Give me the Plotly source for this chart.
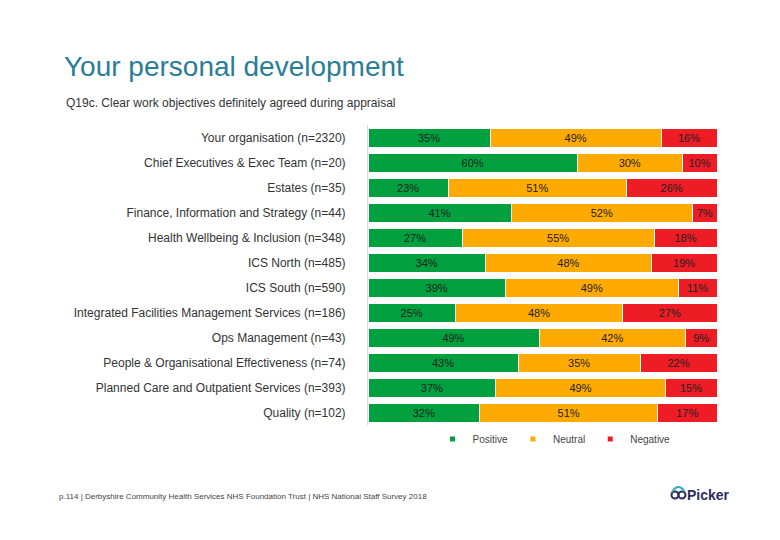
import plotly.graph_objects as go

categories = [
    "Your organisation (n=2320)",
    "Chief Executives & Exec Team (n=20)",
    "Estates (n=35)",
    "Finance, Information and Strategy (n=44)",
    "Health Wellbeing & Inclusion (n=348)",
    "ICS North (n=485)",
    "ICS South (n=590)",
    "Integrated Facilities Management Services (n=186)",
    "Ops Management (n=43)",
    "People & Organisational Effectiveness (n=74)",
    "Planned Care and Outpatient Services (n=393)",
    "Quality (n=102)",
]
positive = [35, 60, 23, 41, 27, 34, 39, 25, 49, 43, 37, 32]
neutral = [49, 30, 51, 52, 55, 48, 49, 48, 42, 35, 49, 51]
negative = [16, 10, 26, 7, 18, 19, 11, 27, 9, 22, 15, 17]

series = [
    ("Positive", positive, "#00A03E"),
    ("Neutral", neutral, "#FFAA00"),
    ("Negative", negative, "#EE1C25"),
]

# rounded percentages: scale each row to its total so bars fill the width
totals = [p + n + g for p, n, g in zip(positive, neutral, negative)]

# page body has an 8px margin; work in figure pixel coords
OFF = 8
L, R, T, B = 368 - OFF, 717 - OFF, 125 - OFF, 425 - OFF
PW, PH = R - L, B - T

def px(x):
    return (x - OFF - L) / PW

def py(y):
    return (B - (y - OFF)) / PH

fig = go.Figure()
for name, vals, col in series:
    fig.add_trace(go.Bar(
        y=categories, x=[v * 100 / t for v, t in zip(vals, totals)],
        name=name, orientation="h", showlegend=False,
        marker=dict(color=col, line=dict(color="white", width=1)),
        text=[f"{v}%" for v in vals], textposition="inside",
        insidetextanchor="middle",
        textfont=dict(size=11, color="#222222", family="Liberation Sans, Arial"),
        hoverinfo="skip",
    ))
for name, vals, col in series:
    fig.add_trace(go.Scatter(
        x=[None], y=[None], mode="markers", name=name,
        marker=dict(symbol="square", size=5, color=col), hoverinfo="skip",
    ))

fig.update_layout(
    barmode="stack",
    bargap=0.24,
    width=780, height=540,
    margin=dict(l=L, r=780 - R, t=T, b=540 - B),
    paper_bgcolor="white", plot_bgcolor="white",
    font=dict(family="Liberation Sans, Arial", color="#333333"),
    showlegend=True,
    uniformtext=dict(mode="show", minsize=8),
    legend=dict(orientation="h", x=px(554), xanchor="center", y=py(439), yanchor="middle",
                font=dict(size=10, color="#444444"), itemwidth=30, traceorder="normal"),
    title=dict(text="Your personal development", x=(64 - OFF) / 780, xanchor="left",
               y=1 - (66 - OFF) / 540, yanchor="middle", xref="container", yref="container",
               font=dict(size=28, color="#2A7D98", family="Liberation Sans, Arial")),
)
fig.update_xaxes(range=[0, 100], visible=False, fixedrange=True)
fig.update_yaxes(autorange="reversed", showline=True, linecolor="#D9D9D9", linewidth=1,
                 ticks="", ticklabelstandoff=19,
                 tickfont=dict(size=12, color="#333333"), fixedrange=True)

fig.add_annotation(text="Q19c. Clear work objectives definitely agreed during appraisal",
                   xref="paper", yref="paper", x=px(64), y=py(103),
                   xanchor="left", yanchor="middle", showarrow=False,
                   font=dict(size=12, color="#333333"))
fig.add_annotation(text="p.114 | Derbyshire Community Health Services NHS Foundation Trust | NHS National Staff Survey 2018",
                   xref="paper", yref="paper", x=px(57), y=py(496),
                   xanchor="left", yanchor="middle", showarrow=False,
                   font=dict(size=8, color="#444444"))
fig.add_annotation(text="<b>Picker</b>",
                   xref="paper", yref="paper", x=px(685), y=py(495),
                   xanchor="left", yanchor="middle", showarrow=False,
                   font=dict(size=14, color="#2B2D5E"))
# logo icon
for cx in (675, 682):
    fig.add_shape(type="circle", xref="paper", yref="paper",
                  x0=px(cx - 3.5), x1=px(cx + 3.5),
                  y0=py(498.5), y1=py(491.5),
                  line=dict(color="#2B2D5E", width=2))
fig.add_shape(type="path", xref="paper", yref="paper",
              path=f"M {px(672)},{py(492)} Q {px(678.5)},{py(482)} {px(685)},{py(492)}",
              line=dict(color="#3AA8C8", width=2))

fig.write_html("out.html")
